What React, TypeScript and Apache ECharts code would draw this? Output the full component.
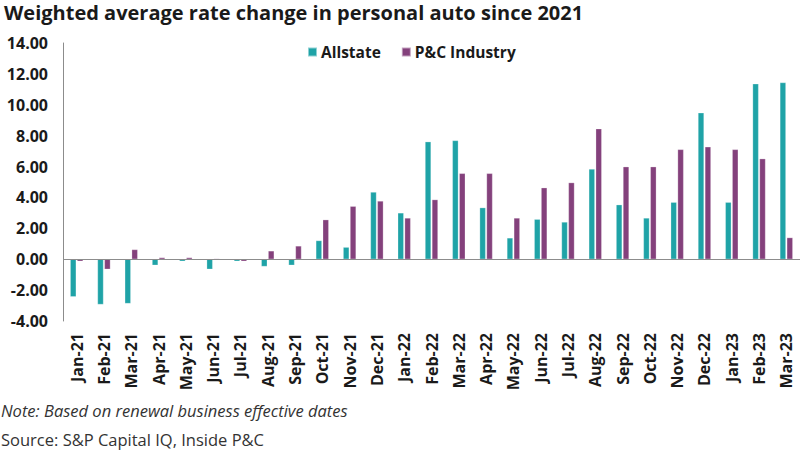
import React, { useEffect, useRef } from "react";
import * as echarts from "echarts";

const categories = [
  "Jan-21", "Feb-21", "Mar-21", "Apr-21", "May-21", "Jun-21", "Jul-21", "Aug-21", "Sep-21",
  "Oct-21", "Nov-21", "Dec-21", "Jan-22", "Feb-22", "Mar-22", "Apr-22", "May-22", "Jun-22",
  "Jul-22", "Aug-22", "Sep-22", "Oct-22", "Nov-22", "Dec-22", "Jan-23", "Feb-23", "Mar-23",
];

const allstate = [
  -2.43, -2.93, -2.87, -0.39, -0.13, -0.65, -0.13, -0.47, -0.39,
  1.21, 0.78, 4.35, 3.0, 7.61, 7.69, 3.34, 1.38, 2.59,
  2.41, 5.84, 3.53, 2.67, 3.69, 9.48, 3.69, 11.36, 11.44,
];

const industry = [
  -0.13, -0.65, 0.63, 0.11, 0.11, 0.04, -0.13, 0.54, 0.86,
  2.56, 3.43, 3.77, 2.67, 3.86, 5.56, 5.56, 2.67, 4.63,
  4.96, 8.45, 5.99, 5.99, 7.11, 7.28, 7.11, 6.51, 1.4,
];

const seriesNames = ["Allstate", "P&C Industry"];
const titleText = "Weighted average rate change in personal auto since 2021";
const noteText = "Note: Based on renewal business effective dates";
const sourceText = "Source: S&P Capital IQ, Inside P&C";

const TEAL = "#1fa3a7";
const PURPLE = "#84417c";
const FONT = "'Open Sans', 'Noto Sans', sans-serif";

export default function App() {
  const ref = useRef<HTMLDivElement>(null);
  useEffect(() => {
    if (!ref.current) return;
    const chart = echarts.init(ref.current, undefined, { renderer: "svg" });
    chart.setOption({
      animation: false,
      backgroundColor: "#ffffff",
      textStyle: { fontFamily: FONT },
      graphic: [
        {
          type: "text",
          left: 4,
          top: 2,
          style: { text: titleText, font: `bold 20px ${FONT}`, fill: "#1a1a1a" },
        },
        {
          type: "text",
          left: 1,
          top: 402,
          style: { text: noteText, font: `italic 16.5px ${FONT}`, fill: "#333333" },
        },
        {
          type: "text",
          left: 1,
          top: 431,
          style: { text: sourceText, font: `16.5px ${FONT}`, fill: "#333333" },
        },
      ],
      legend: {
        data: seriesNames,
        left: 302,
        top: 39,
        itemWidth: 9,
        itemHeight: 9,
        itemGap: 20,
        icon: "rect",
        textStyle: { fontFamily: FONT, fontSize: 15.5, fontWeight: "bold", color: "#1a1a1a", padding: [0, 0, 0, -1] },
      },
      grid: { left: 63, right: 0, top: 43, bottom: 134, containLabel: false },
      xAxis: {
        type: "category",
        data: categories,
        axisLine: { show: false, onZero: false },
        axisTick: { show: false },
        axisLabel: {
          rotate: 90,
          interval: 0,
          margin: 12,
          fontFamily: FONT,
          fontSize: 16,
          fontWeight: "bold",
          color: "#1a1a1a",
        },
      },
      yAxis: {
        type: "value",
        min: -4,
        max: 14,
        interval: 2,
        axisLine: { show: true, lineStyle: { color: "#8c8c8c", width: 1 } },
        axisTick: { show: false },
        splitLine: { show: false },
        axisLabel: {
          margin: 15,
          fontFamily: FONT,
          fontSize: 16,
          fontWeight: "bold",
          color: "#1a1a1a",
          formatter: (v: number) => v.toFixed(2),
        },
      },
      series: [
        {
          name: seriesNames[0],
          type: "bar",
          data: allstate,
          barWidth: 6,
          barGap: "15%",
          itemStyle: { color: TEAL, borderColor: "rgba(255,255,255,0.5)", borderWidth: 0.5 },
          markLine: {
            silent: true,
            symbol: "none",
            label: { show: false },
            lineStyle: { color: "#8c8c8c", type: "solid", width: 1 },
            data: [{ yAxis: 0 }],
          },
        },
        {
          name: seriesNames[1],
          type: "bar",
          data: industry,
          barWidth: 6,
          barGap: "15%",
          itemStyle: { color: PURPLE, borderColor: "rgba(255,255,255,0.5)", borderWidth: 0.5 },
        },
      ],
    });
    return () => chart.dispose();
  }, []);
  return <div ref={ref} style={{ position: "fixed", left: 0, top: 0, width: 800, height: 455 }} />;
}
